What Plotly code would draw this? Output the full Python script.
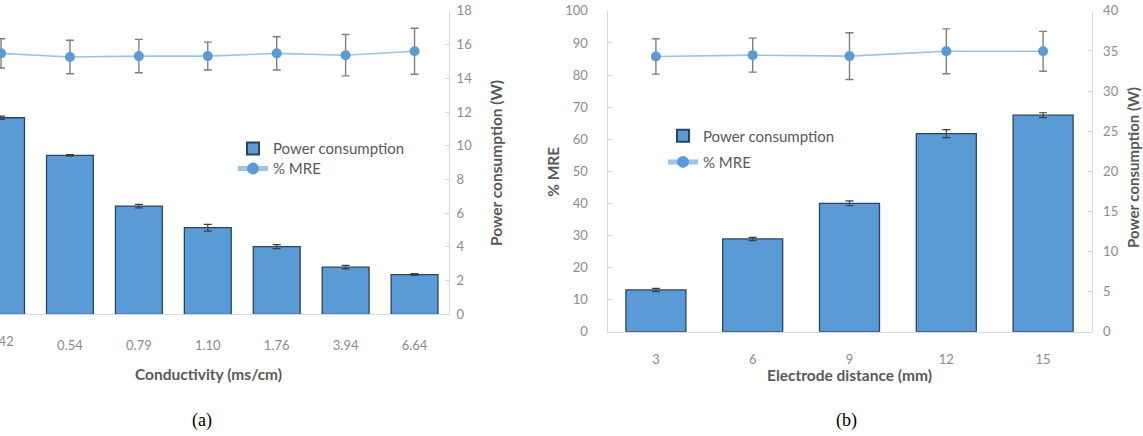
import plotly.graph_objects as go

# ---------------- data ----------------
cond_labels = ["0.42", "0.54", "0.79", "1.10", "1.76", "3.94", "6.64"]
power_a = [11.66, 9.43, 6.42, 5.14, 4.02, 2.80, 2.36]
power_a_err = [0.10, 0.05, 0.10, 0.20, 0.12, 0.10, 0.05]
mre_a = [86.0, 84.8, 85.1, 85.1, 86.0, 85.4, 86.7]
mre_a_err = [4.8, 5.5, 5.5, 4.6, 5.5, 6.8, 7.6]

dist_labels = ["3", "6", "9", "12", "15"]
power_b = [5.2, 11.56, 16.0, 24.7, 27.0]
power_b_err = [0.2, 0.2, 0.3, 0.5, 0.3]
mre_b = [85.8, 86.2, 85.9, 87.4, 87.4]
mre_b_err = [5.5, 5.3, 7.3, 7.0, 6.2]

# ---------------- style ----------------
W, H = 1143, 436
BAR = "#5B9BD5"
BAR_EDGE = "#2B4360"
LINE = "#9DC3E6"
ERR = "#7F7F7F"
AX = "#D9D9D9"
TICK = "#8C8C8C"
TITLE = "#595959"
FONT = "Lato, 'Open Sans', sans-serif"

def px(x):
    return x / W

def py(y):
    return 1 - y / H

fig = go.Figure()

# panel (a)
fig.add_trace(go.Bar(
    x=cond_labels, y=power_a, xaxis="x", yaxis="y2",
    marker=dict(color=BAR, line=dict(color=BAR_EDGE, width=1.3)),
    width=0.68,
    error_y=dict(type="data", array=power_a_err, color="#404040", thickness=1.2, width=4),
    name="Power consumption", legend="legend", showlegend=True))
fig.add_trace(go.Scatter(
    x=cond_labels, y=mre_a, xaxis="x", yaxis="y",
    mode="lines+markers", line=dict(color=LINE, width=1.6),
    marker=dict(color=BAR, size=10),
    error_y=dict(type="data", array=mre_a_err, color=ERR, thickness=1.4, width=4),
    name="% MRE", legend="legend2", showlegend=True))

# panel (b)
fig.add_trace(go.Bar(
    x=dist_labels, y=power_b, xaxis="x2", yaxis="y4",
    marker=dict(color=BAR, line=dict(color=BAR_EDGE, width=1.3)),
    width=0.62,
    error_y=dict(type="data", array=power_b_err, color="#404040", thickness=1.2, width=4),
    name="Power consumption", legend="legend3", showlegend=True))
fig.add_trace(go.Scatter(
    x=dist_labels, y=mre_b, xaxis="x2", yaxis="y3",
    mode="lines+markers", line=dict(color=LINE, width=1.6),
    marker=dict(color=BAR, size=10),
    error_y=dict(type="data", array=mre_b_err, color=ERR, thickness=1.4, width=4),
    name="% MRE", legend="legend4", showlegend=True))

tickfont = dict(family=FONT, size=13, color=TICK)

common_y = dict(showgrid=False, zeroline=False, showline=True, linecolor=AX,
                linewidth=1, ticks="inside", ticklen=4, tickcolor=AX,
                tickfont=tickfont, fixedrange=True, ticklabeloverflow="allow")

legend_font = dict(family=FONT, size=15, color=TITLE)

def leg(x, y):
    return dict(x=px(x), y=py(y), xanchor="left", yanchor="middle",
                font=legend_font, bgcolor="rgba(0,0,0,0)", borderwidth=0,
                itemsizing="constant")

fig.update_layout(
    width=W, height=H,
    margin=dict(l=0, r=0, t=0, b=0),
    paper_bgcolor="white", plot_bgcolor="white",
    font=dict(family=FONT),
    xaxis=dict(domain=[0, px(449)], type="category", range=[-0.015, 6.5],
               showline=True, linecolor=AX, linewidth=1, ticks="",
               tickmode="array", tickvals=cond_labels[1:], ticktext=cond_labels[1:],
               tickfont=tickfont, anchor="y", ticklabelstandoff=19, showgrid=False,
               ticklabeloverflow="allow"),
    yaxis=dict(domain=[py(318), py(3)], range=[0, 100], visible=False,
               anchor="x", showgrid=False),
    yaxis2=dict(common_y, domain=[py(318), py(3)], range=[0, 18], dtick=2,
                overlaying="y", side="right", anchor="x", ticklabelstandoff=4),
    xaxis2=dict(domain=[px(607.5), px(1091.5)], type="category", range=[-0.5, 4.5],
                showline=True, linecolor=AX, linewidth=1, ticks="",
                tickfont=tickfont, anchor="y3", ticklabelstandoff=16, showgrid=False,
                ticklabeloverflow="allow"),
    yaxis3=dict(common_y, domain=[py(336), py(3)], range=[0, 100], dtick=10,
                side="left", anchor="x2", ticklabelstandoff=16),
    yaxis4=dict(common_y, domain=[py(336), py(3)], range=[0, 40], dtick=5,
                overlaying="y3", side="right", anchor="x2", ticklabelstandoff=8),
    legend=leg(233, 146),
    legend2=leg(233, 167),
    legend3=leg(663, 133),
    legend4=leg(663, 160),
)

# first category label of panel (a): partly outside the page, as in the original
# (category axes place annotations by category index)
fig.add_annotation(text=cond_labels[0], x=cond_labels.index(cond_labels[0]), xref="x",
                   y=py(346), yref="paper",
                   showarrow=False, xanchor="center", yanchor="middle", font=tickfont)

title_font = dict(family=FONT, size=15.5, color=TITLE)
ann = [
    dict(text="<b>Conductivity (ms/cm)</b>", x=px(208), y=py(380)),
    dict(text="<b>Power consumption (W)</b>", x=px(496), y=py(161), textangle=-90),
    dict(text="<b>% MRE</b>", x=px(553), y=py(170), textangle=-90),
    dict(text="<b>Electrode distance (mm)</b>", x=px(849), y=py(381)),
    dict(text="<b>Power consumption (W)</b>", x=px(1133), y=py(166), textangle=-90,
         font=dict(family=FONT, size=15, color=TITLE)),
]
for a in ann:
    f = a.pop("font", title_font)
    fig.add_annotation(xref="paper", yref="paper", showarrow=False,
                       xanchor="center", yanchor="middle", font=f, **a)

cap_font = dict(family="'Liberation Serif', 'DejaVu Serif', serif", size=18, color="#000000")
fig.add_annotation(text="(a)", x=px(202), y=py(428), xref="paper", yref="paper",
                   showarrow=False, xanchor="center", yanchor="middle", font=cap_font)
fig.add_annotation(text="(b)", x=px(846), y=py(428), xref="paper", yref="paper",
                   showarrow=False, xanchor="center", yanchor="middle", font=cap_font)

fig.write_html("out.html")
